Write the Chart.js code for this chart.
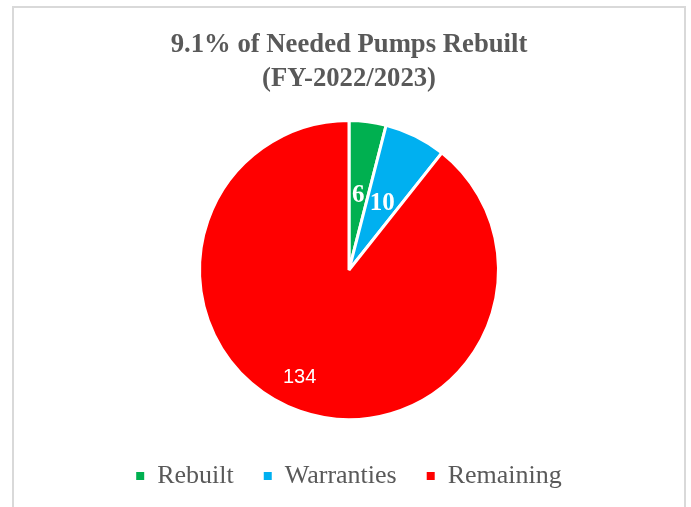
<!DOCTYPE html>
<html>
<head>
<meta charset="utf-8">
<script src="https://cdn.jsdelivr.net/npm/chart.js@4"></script>
<style>
    html, body { margin: 0; padding: 0; background: #fff; }
    #frame {
        position: absolute; left: 12px; top: 6px;
        width: 670px; height: 520px;
        border: 2px solid #d9d9d9; border-bottom: none;
    }
    #wrap { position: absolute; left: 0; top: 0; width: 691px; height: 507px; }
</style>
</head>
<body>
<div id="frame"></div>
<div id="wrap"><canvas id="chartPumps" width="691" height="507"></canvas></div>
<script>
// Pump rebuild status
const categories = ['Rebuilt', 'Warranties', 'Remaining'];
const pumpCounts = [6, 10, 134];
const titleLines = ['9.1% of Needed Pumps Rebuilt', '(FY-2022/2023)'];

const colors = {
    rebuilt: '#00B050',
    warranties: '#00B0F0',
    remaining: '#FF0000',
    text: '#595959'
};

// Label styling per slice: font and where along the radius it sits
const labelStyles = [
    { font: 'bold 25px "Liberation Serif", "Times New Roman", serif', r: 0.5, shift: 0 },
    { font: 'bold 25px "Liberation Serif", "Times New Roman", serif', r: 0.5, shift: 0 },
    { font: '20px "Liberation Sans", Arial, sans-serif', r: 0.79, shift: 5.5 }
];

const sliceLabels = {
    id: 'sliceLabels',
    afterDatasetsDraw(chart) {
        const ctx = chart.ctx;
        const meta = chart.getDatasetMeta(0);
        ctx.save();
        ctx.fillStyle = '#ffffff';
        ctx.textAlign = 'center';
        ctx.textBaseline = 'middle';
        meta.data.forEach((arc, i) => {
            const st = labelStyles[i];
            const mid = (arc.startAngle + arc.endAngle) / 2 + st.shift * Math.PI / 180;
            const r = arc.outerRadius * st.r;
            ctx.font = st.font;
            ctx.fillText(String(pumpCounts[i]), arc.x + Math.cos(mid) * r, arc.y + Math.sin(mid) * r);
        });
        ctx.restore();
    }
};

const pieDefaults = (Chart.overrides.pie || Chart.overrides.doughnut).plugins.legend.labels;

new Chart(document.getElementById('chartPumps').getContext('2d'), {
    type: 'pie',
    data: {
        labels: categories,
        datasets: [{
            data: pumpCounts,
            backgroundColor: [colors.rebuilt, colors.warranties, colors.remaining],
            borderColor: '#ffffff',
            borderWidth: 3,
            radius: 149.5
        }]
    },
    options: {
        responsive: false,
        animation: false,
        layout: { padding: { left: 7, bottom: 8 } },
        plugins: {
            title: {
                display: true,
                text: titleLines,
                color: colors.text,
                font: { family: '"Liberation Serif", "Times New Roman", serif', size: 26.7, weight: 'bold', lineHeight: 1.27 },
                padding: { top: 28, bottom: 11.2 }
            },
            legend: {
                position: 'bottom',
                labels: {
                    boxWidth: 8,
                    boxHeight: 8,
                    padding: 30,
                    color: colors.text,
                    font: { family: '"Liberation Serif", "Times New Roman", serif', size: 26 },
                    generateLabels: chart => pieDefaults.generateLabels(chart).map(l => ({ ...l, lineWidth: 0 }))
                }
            },
            tooltip: { enabled: false }
        }
    },
    plugins: [sliceLabels]
});
</script>
</body>
</html>
